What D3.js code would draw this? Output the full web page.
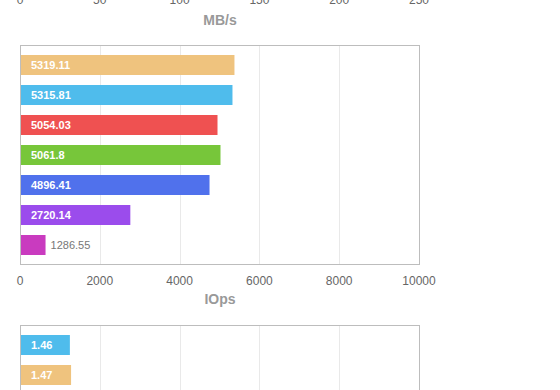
<!DOCTYPE html>
<html>
<head>
<meta charset="utf-8">
<script src="https://cdn.jsdelivr.net/npm/d3@7"></script>
<style>
  body { margin: 0; background: #fff; }
  svg { display: block; font-family: "Liberation Sans", Arial, Helvetica, sans-serif; }
</style>
</head>
<body>
<svg id="chart" width="560" height="390"></svg>
<script>
// MB/s chart (only its axis shows at the top)
var mbTicks = [0, 50, 100, 150, 200, 250];

// IOps chart
var iopsColors = ["#efc37e", "#4fbcec", "#ef5151", "#77c63a", "#5071ec", "#9b4cec", "#c93bbf"];
var iopsLabels = ["5319.11", "5315.81", "5054.03", "5061.8", "4896.41", "2720.14", "1286.55"];
var iopsBars = [5375, 5325, 4950, 5025, 4750, 2765, 640];

// latency chart (cut off at the bottom)
var latColors = ["#4fbcec", "#efc37e"];
var latLabels = ["1.46", "1.47"];
var latBars = [1.25, 1.28];

var svg = d3.select("#chart");
var left = 20, right = 419;

function crisp(v) { return Math.round(v) + 0.5; }

// ---- top axis, cut off ----
var xMb = d3.scaleLinear().domain([0, 250]).range([left, right]);
svg.append("g").selectAll("text")
  .data(mbTicks)
  .enter().append("text")
  .attr("x", function(d) { return xMb(d); })
  .attr("y", 4)
  .attr("text-anchor", "middle")
  .attr("font-size", 12)
  .attr("fill", "#666")
  .text(function(d) { return d; });

svg.append("text")
  .attr("x", 220)
  .attr("y", 25)
  .attr("text-anchor", "middle")
  .attr("font-size", 14)
  .attr("font-weight", "bold")
  .attr("fill", "#999")
  .text("MB/s");

function barChart(top, domainMax, bars, labels, colors, title) {
  var n = bars.length;
  var bottom = top + n * 30 + 10;
  var x = d3.scaleLinear().domain([0, domainMax]).range([left, right]);
  var y = d3.scaleBand().domain(d3.range(n)).range([top, bottom])
    .paddingInner(1 / 3).paddingOuter(1 / 3);

  // label goes inside the bar unless the bar is too short
  function inside(d) { return (x(d) - left) > 35; }

  var g = svg.append("g");

  // gridlines
  g.append("g").selectAll("line")
    .data(x.ticks(5).slice(1, -1))
    .enter().append("line")
    .attr("x1", function(d) { return crisp(x(d)); })
    .attr("x2", function(d) { return crisp(x(d)); })
    .attr("y1", top)
    .attr("y2", bottom)
    .attr("stroke", "#e9e9e9");

  g.append("rect")
    .attr("x", left + 0.5)
    .attr("y", top + 0.5)
    .attr("width", right - left)
    .attr("height", bottom - top - 1)
    .attr("fill", "none")
    .attr("stroke", "#bdbdbd");

  g.append("g").selectAll("rect")
    .data(bars)
    .enter().append("rect")
    .attr("x", left + 1)
    .attr("y", function(d, i) { return y(i); })
    .attr("width", function(d) { return x(d) - left - 1; })
    .attr("height", y.bandwidth())
    .attr("fill", function(d, i) { return colors[i]; });

  g.append("g").selectAll("text")
    .data(bars)
    .enter().append("text")
    .attr("x", function(d) { return inside(d) ? left + 11 : x(d) + 5; })
    .attr("y", function(d, i) { return y(i) + y.bandwidth() / 2; })
    .attr("dy", "0.35em")
    .attr("font-size", 11)
    .attr("font-weight", function(d) { return inside(d) ? "bold" : "normal"; })
    .attr("fill", function(d) { return inside(d) ? "#fff" : "#777"; })
    .text(function(d, i) { return labels[i]; });

  if (title) {
    svg.append("g").selectAll("text")
      .data(x.ticks(5))
      .enter().append("text")
      .attr("x", function(d) { return x(d); })
      .attr("y", bottom + 20)
      .attr("text-anchor", "middle")
      .attr("font-size", 12)
      .attr("fill", "#666")
      .text(function(d) { return d; });

    svg.append("text")
      .attr("x", 220)
      .attr("y", bottom + 39)
      .attr("text-anchor", "middle")
      .attr("font-size", 14)
      .attr("font-weight", "bold")
      .attr("fill", "#999")
      .text(title);
  }
}

barChart(45, 10000, iopsBars, iopsLabels, iopsColors, "IOps");
barChart(325, 10, latBars, latLabels, latColors, null);
</script>
</body>
</html>
